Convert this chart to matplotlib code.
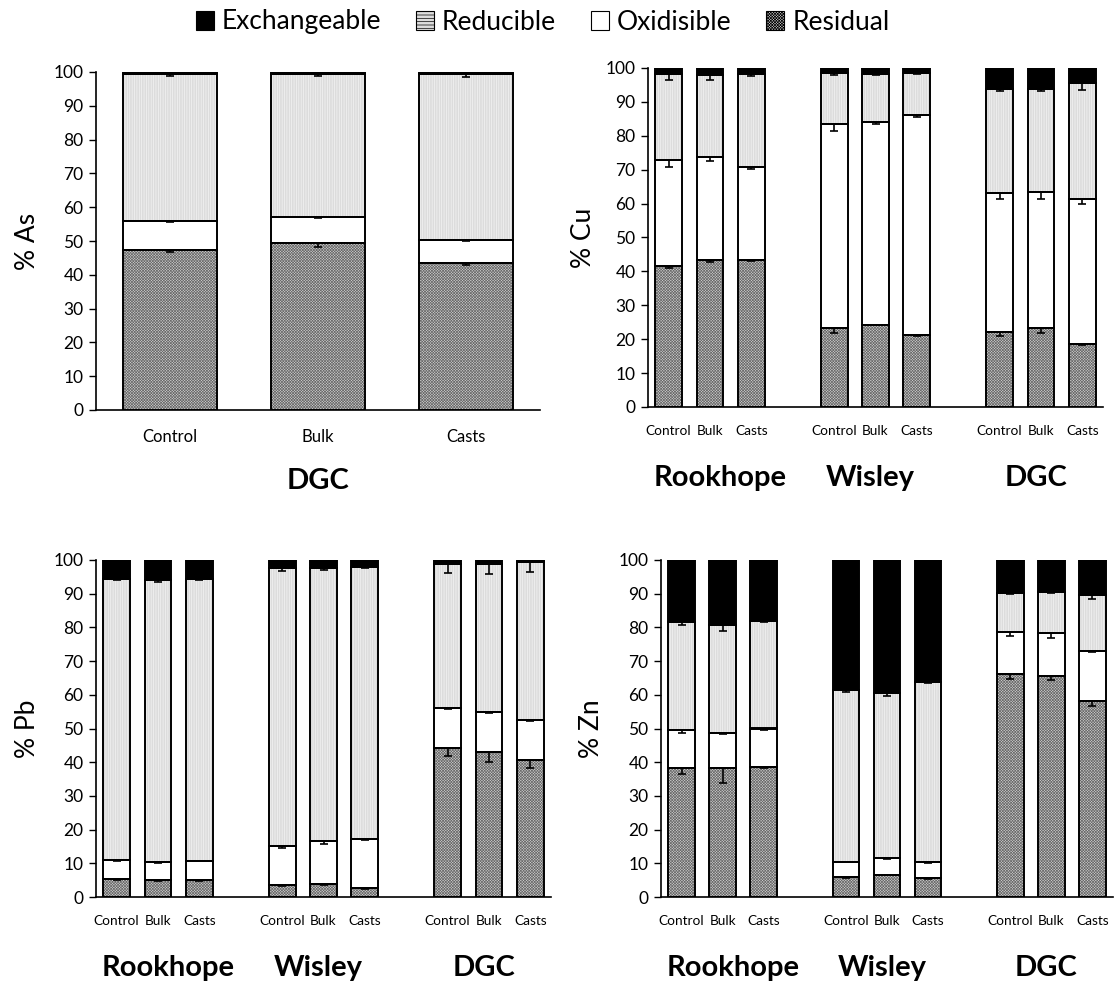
import numpy as np
import matplotlib
matplotlib.use('Agg')
from matplotlib import pyplot as plt
from matplotlib.patches import Patch

plt.rcParams['font.family'] = ['Lato', 'DejaVu Sans']
plt.rcParams['hatch.linewidth'] = 0.5

## Données (% de chaque fraction, empilées de bas en haut)
samples = ['Control', 'Bulk', 'Casts']
sites = ['Rookhope', 'Wisley', 'DGC']
fractions = ['Exchangeable', 'Reducible', 'Oxidisible', 'Residual']

# As : DGC seulement
as_res = [47.3, 49.3, 43.5]
as_oxi = [8.5, 7.7, 6.9]
as_red = [43.5, 42.3, 48.9]
as_exc = [0.7, 0.7, 0.7]
as_res_err = [0.6, 1.0, 0.5]
as_oxi_err = [0.3, 0.3, 0.3]
as_red_err = [0.6, 0.4, 0.8]

# Cu : Rookhope, Wisley, DGC x (Control, Bulk, Casts)
cu_res = [41.5, 43.4, 43.4, 23.2, 24.3, 21.2, 22.1, 23.2, 18.7]
cu_oxi = [31.4, 30.3, 27.4, 60.2, 59.7, 64.8, 40.9, 40.3, 42.8]
cu_red = [25.2, 24.1, 27.3, 15.1, 14.2, 12.5, 30.8, 30.3, 34.0]
cu_exc = [1.9, 2.2, 1.9, 1.5, 1.8, 1.5, 6.2, 6.2, 4.5]
cu_res_err = [0.5, 0.6, 0.3, 1.5, 0.2, 0.3, 1.3, 1.3, 0.5]
cu_oxi_err = [2.1, 1.0, 0.7, 2.0, 0.6, 0.5, 1.5, 2.0, 1.5]
cu_red_err = [1.5, 1.2, 0.4, 0.7, 0.4, 0.3, 0.7, 0.5, 2.0]

# Pb
pb_res = [5.3, 5.0, 5.0, 3.5, 3.8, 2.6, 44.3, 43.0, 40.8]
pb_oxi = [5.8, 5.5, 5.8, 11.7, 12.7, 14.7, 11.7, 12.0, 11.7]
pb_red = [83.4, 83.5, 83.7, 82.3, 81.0, 80.5, 42.8, 43.8, 46.8]
pb_exc = [5.5, 6.0, 5.5, 2.5, 2.5, 2.2, 1.2, 1.2, 0.7]
pb_res_err = [0.3, 0.3, 0.2, 0.3, 0.3, 0.2, 2.5, 3.0, 2.5]
pb_oxi_err = [0.4, 0.4, 0.2, 0.8, 0.8, 0.3, 0.3, 0.3, 0.3]
pb_red_err = [0.3, 0.4, 0.3, 0.8, 0.6, 0.3, 2.7, 3.0, 2.8]

# Zn
zn_res = [38.3, 38.3, 38.6, 6.0, 6.6, 5.5, 66.3, 65.7, 58.3]
zn_oxi = [11.2, 10.5, 11.4, 4.5, 5.0, 4.9, 12.4, 12.6, 14.7]
zn_red = [32.2, 32.0, 32.0, 51.0, 48.9, 53.4, 11.6, 12.3, 16.6]
zn_exc = [18.3, 19.2, 18.0, 38.5, 39.5, 36.2, 9.7, 9.4, 10.4]
zn_res_err = [1.7, 4.5, 0.4, 0.3, 0.2, 0.3, 1.5, 1.2, 1.5]
zn_oxi_err = [0.8, 0.5, 0.3, 0.1, 0.3, 0.4, 1.2, 1.3, 0.3]
zn_red_err = [1.0, 2.0, 0.4, 0.8, 0.8, 0.3, 0.4, 0.3, 1.2]

## Styles des fractions : (couleur de fond, hachures, couleur des hachures)
styles = {
    'Residual': ('#cfcfcf', 'x' * 12, '#6a6a6a'),
    'Oxidisible': ('white', '', 'white'),
    'Reducible': ('#dcdcdc', '|' * 7, '#f4f4f4'),
    'Exchangeable': ('black', '', 'black'),
}

W, H = 1114, 985
fig = plt.figure(figsize=(W / 100, H / 100), dpi=100)


def add_axes(l, t, r, b):
    # position en pixels -> fraction de la figure
    return fig.add_axes([l / W, 1 - b / H, (r - l) / W, (b - t) / H])


def stacked(ax, x, res, oxi, red, exc, errs, width):
    x = np.array(x, dtype=float)
    layers = [('Residual', res), ('Oxidisible', oxi),
              ('Reducible', red), ('Exchangeable', exc)]
    bottom = np.zeros(len(x))
    tops = []
    for name, vals in layers:
        vals = np.array(vals, dtype=float)
        fc, hatch, hc = styles[name]
        ax.bar(x, vals, width, bottom=bottom, color=fc, hatch=hatch,
               edgecolor=hc, linewidth=0, zorder=2)
        ax.bar(x, vals, width, bottom=bottom, fill=False,
               edgecolor='black', linewidth=1.4, zorder=3)
        bottom = bottom + vals
        tops.append(bottom.copy())
    # barres d'erreur vers le bas au sommet de chaque fraction
    for top, err in zip(tops[:3], errs):
        err = np.array(err, dtype=float)
        ax.errorbar(x, top, yerr=[err, np.zeros(len(err))], fmt='none',
                    ecolor='black', elinewidth=1.2, capsize=3,
                    capthick=1.2, zorder=4)


def style_axes(ax, x, xmax, label, tick_size, tick_pad):
    ax.set_ylim(0, 100)
    ax.set_xlim(-0.5, xmax)
    ax.set_yticks(np.arange(0, 101, 10))
    ax.tick_params(axis='y', labelsize=12.5, length=5, width=1,
                   direction='out', pad=4)
    ax.set_xticks(x)
    ax.tick_params(axis='x', length=0, labelsize=tick_size, pad=tick_pad)
    for s in ['top', 'right']:
        ax.spines[s].set_visible(False)
    for s in ['left', 'bottom']:
        ax.spines[s].set_linewidth(1.2)
    ax.set_ylabel(label, fontsize=19)


pos9 = [0, 1, 2, 4, 5, 6, 8, 9, 10]
labels9 = samples * 3
site_x = [1.25, 4.88, 8.88]

# As
ax1 = add_axes(96, 72, 540, 410)
stacked(ax1, [0, 1, 2], as_res, as_oxi, as_red, as_exc,
        [as_res_err, as_oxi_err, as_red_err], 0.64)
style_axes(ax1, [0, 1, 2], 2.5, '% As', 12, 14)
ax1.set_xticklabels(samples)
ax1.text(1, -0.21, 'DGC', transform=ax1.get_xaxis_transform(),
         ha='center', va='center', fontsize=21, fontweight='bold')

# Cu, Pb, Zn
panels = [
    ((648, 68, 1103, 407), '% Cu', cu_res, cu_oxi, cu_red, cu_exc,
     [cu_res_err, cu_oxi_err, cu_red_err]),
    ((96, 560, 551, 897), '% Pb', pb_res, pb_oxi, pb_red, pb_exc,
     [pb_res_err, pb_oxi_err, pb_red_err]),
    ((661, 560, 1113, 897), '% Zn', zn_res, zn_oxi, zn_red, zn_exc,
     [zn_res_err, zn_oxi_err, zn_red_err]),
]
for box, lab, res, oxi, red, exc, errs in panels:
    ax = add_axes(*box)
    stacked(ax, pos9, res, oxi, red, exc, errs, 0.65)
    style_axes(ax, pos9, 10.5, lab, 9.8, 13)
    ax.set_xticklabels(labels9)
    for sx, site in zip(site_x, sites):
        ax.text(sx, -0.21, site, transform=ax.get_xaxis_transform(),
                ha='center', va='center', fontsize=21, fontweight='bold')

# positions des titres d'axe y (bord droit du texte, en pixels)
for ax, xpx in zip(fig.axes, [40, 596, 40, 604]):
    pos = ax.get_position()
    ax.yaxis.set_label_coords((xpx / W - pos.x0) / pos.width, 0.5)

## Légende
handles = []
for name in fractions:
    fc, hatch, hc = styles[name]
    if name == 'Reducible':
        hatch = '-' * 5
    handles.append(Patch(facecolor=fc, hatch=hatch, edgecolor='black', linewidth=0.8))
fig.legend(handles, fractions, loc='center', bbox_to_anchor=(0.487, 1 - 22 / H),
           ncol=4, frameon=False, fontsize=19, handlelength=0.7,
           handleheight=0.7, handletextpad=0.3, columnspacing=1.3)

plt.savefig('out.png', dpi=100)
